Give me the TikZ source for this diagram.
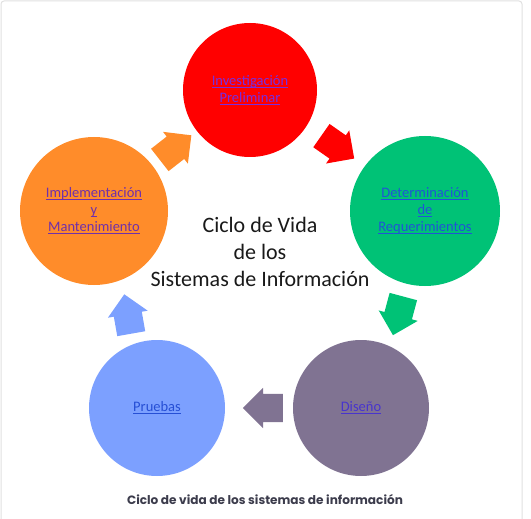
\documentclass[tikz,border=0pt]{standalone}
\usepackage{fontspec}
\usetikzlibrary{
		shapes.arrows,
		positioning
	}
\newfontfamily\calibri{Carlito}
\newfontfamily\capfont{Poppins}
\definecolor{faseRoja}{RGB}{255,0,0}
\definecolor{faseVerde}{RGB}{0,194,118}
\definecolor{faseMorada}{RGB}{128,115,146}
\definecolor{faseAzul}{RGB}{124,160,255}
\definecolor{faseNaranja}{RGB}{255,140,42}
\definecolor{enlaceVisto}{RGB}{112,48,170}
\definecolor{enlaceRojo}{RGB}{118,46,226}
\definecolor{enlaceAzul}{RGB}{32,84,214}
\definecolor{enlaceDis}{RGB}{72,52,205}
\definecolor{pieGris}{RGB}{60,60,76}
\newsavebox{\enlacebox}
\newcommand{\enlace}[1]{\sbox{\enlacebox}{#1}\leavevmode\rlap{\rule[-2.3pt]{\wd\enlacebox}{0.9pt}}\usebox{\enlacebox}}
\tikzset{
		fase/.style={circle, inner sep=0pt, align=center, font=\calibri\fontsize{14.5}{17}\selectfont},
		flecha/.style={single arrow, inner sep=0pt, text height=14pt, text depth=14pt, minimum height=40pt, single arrow head extend=6pt}
	}

\begin{document}
\begin{tikzpicture}[x=1pt, y=-1pt]
		\useasboundingbox (0,0) rectangle (531,519);
		\draw[black!12, line width=1pt, rounded corners=3pt] (1,530) -- (1,1) -- (522,1) -- (522,530);
		% fases del ciclo
		\node[fase, fill=faseRoja, minimum size=134pt, text=enlaceRojo] (inv) at (250,90) {\enlace{Investigación}\\\enlace{Preliminar}};
		\node[fase, fill=faseVerde, minimum size=150pt, text=enlaceAzul] (det) at (425,211) {\enlace{Determinación}\\\enlace{de}\\\enlace{Requerimientos}};
		\node[fase, fill=faseMorada, minimum size=136pt, text=enlaceDis] (dis) at (361,408) {\enlace{Diseño}};
		\node[fase, fill=faseAzul, minimum size=136pt, text=enlaceAzul!85!enlaceDis] (pru) at (157,408) {\enlace{Pruebas}};
		\node[fase, fill=faseNaranja, minimum size=148pt, text=enlaceVisto] (imp) at (94,211) {\enlace{Implementación}\\\enlace{y}\\\enlace{Mantenimiento}};
		% flechas entre fases
		\node[flecha, fill=faseRoja, rotate=-35] (f1) at (332,143) {};
		\node[flecha, fill=faseVerde, rotate=-105] (f2) at (400,309) {};
		\node[flecha, fill=faseMorada, rotate=180] (f3) at (270,408) {};
		\node[flecha, fill=faseAzul, rotate=100] (f4) at (129,321) {};
		\node[flecha, fill=faseNaranja, rotate=38] (f5) at (170,152) {};
		\node[align=center, font=\calibri\fontsize{22}{27}\selectfont, text=black!90] (titulo) at (260,252) {Ciclo de Vida\\de los\\Sistemas de Información};
		\node[anchor=base, font=\capfont\bfseries\fontsize{12.1}{15}\selectfont, text=pieGris] (pie) at (265,504) {Ciclo de vida de los sistemas de información};
	\end{tikzpicture}
\end{document}
